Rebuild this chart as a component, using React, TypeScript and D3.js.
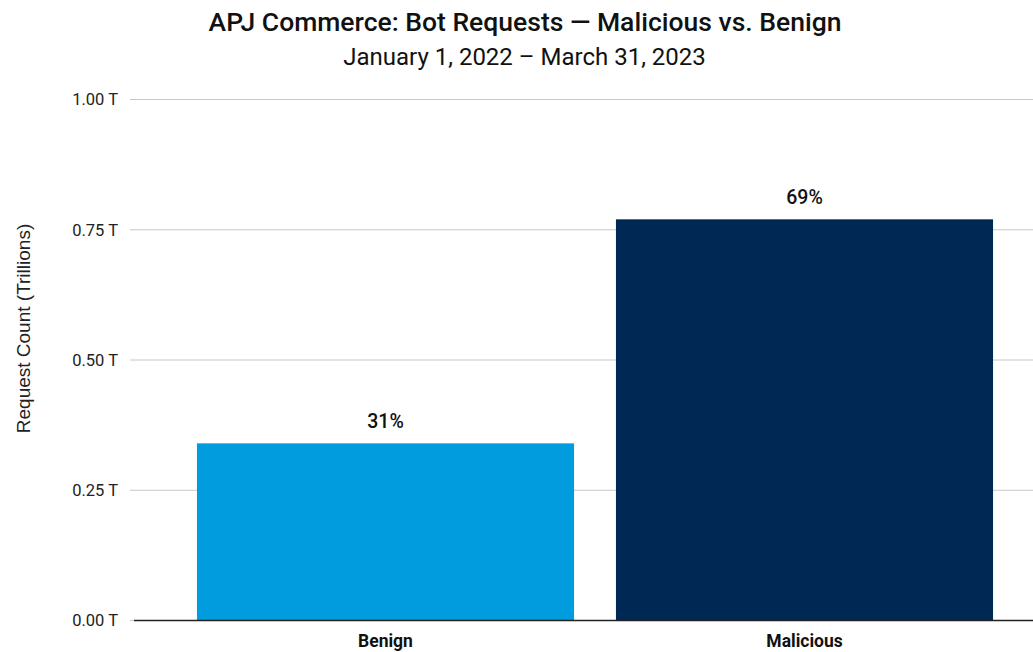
import React from "react";
import * as d3 from "d3";

// Bot request totals for APJ commerce, in trillions of requests
const categories = ["Benign", "Malicious"];
const requestCounts = [0.34, 0.77];
const shareLabels = ["31%", "69%"];
const yTicks = [0, 0.25, 0.5, 0.75, 1.0];
const barColors = ["#009CDE", "#002855"];

const W = 1033;
const H = 652;

export default function App() {
  const y = d3.scaleLinear().domain([0, 1]).range([620.5, 99.5]);
  const x = d3
    .scaleBand<string>()
    .domain(categories)
    .range([176, 1014])
    .paddingInner(0.1)
    .paddingOuter(0.05);

  const fmt = (v: number) => `${d3.format(".2f")(v)} T`;

  return (
    <svg
      width={W}
      height={H}
      style={{ position: "absolute", left: 0, top: 0, background: "#fff" }}
      fontFamily="Roboto, sans-serif"
    >
      <text x={525} y={31} textAnchor="middle" fontSize={26.5} fontWeight={500} fill="#111">
        APJ Commerce: Bot Requests — Malicious vs. Benign
      </text>
      <text x={524.5} y={65} textAnchor="middle" fontSize={24} fill="#111">
        January 1, 2022 – March 31, 2023
      </text>

      {yTicks.map((t) => (
        <g key={t}>
          <line
            x1={130}
            x2={W}
            y1={y(t)}
            y2={y(t)}
            stroke="#c8c8c8"
            strokeWidth={1}
          />
          <text
            x={118}
            y={y(t)}
            dy="0.35em"
            textAnchor="end"
            fontSize={16.5}
            fill="#222"
          >
            {fmt(t)}
          </text>
        </g>
      ))}

      <text
        transform={`translate(30, 328.5) rotate(-90)`}
        textAnchor="middle"
        fontSize={19}
        fontFamily="'Liberation Sans', Arial, sans-serif"
        fill="#222"
      >
        Request Count (Trillions)
      </text>

      {categories.map((c, i) => (
        <g key={c}>
          <rect
            x={x(c)!}
            y={y(requestCounts[i])}
            width={x.bandwidth()}
            height={y(0) - y(requestCounts[i])}
            fill={barColors[i]}
          />
          <text
            x={x(c)! + x.bandwidth() / 2}
            y={y(requestCounts[i]) - 15.5}
            textAnchor="middle"
            fontSize={19.5}
            fontWeight={500}
            fill="#111"
          >
            {shareLabels[i]}
          </text>
          <text
            x={x(c)! + x.bandwidth() / 2}
            y={647}
            textAnchor="middle"
            fontSize={17.5}
            fontWeight={700}
            fill="#111"
          >
            {c}
          </text>
        </g>
      ))}

      <line x1={134} x2={W} y1={y(0)} y2={y(0)} stroke="#222" strokeWidth={1.5} />
    </svg>
  );
}
